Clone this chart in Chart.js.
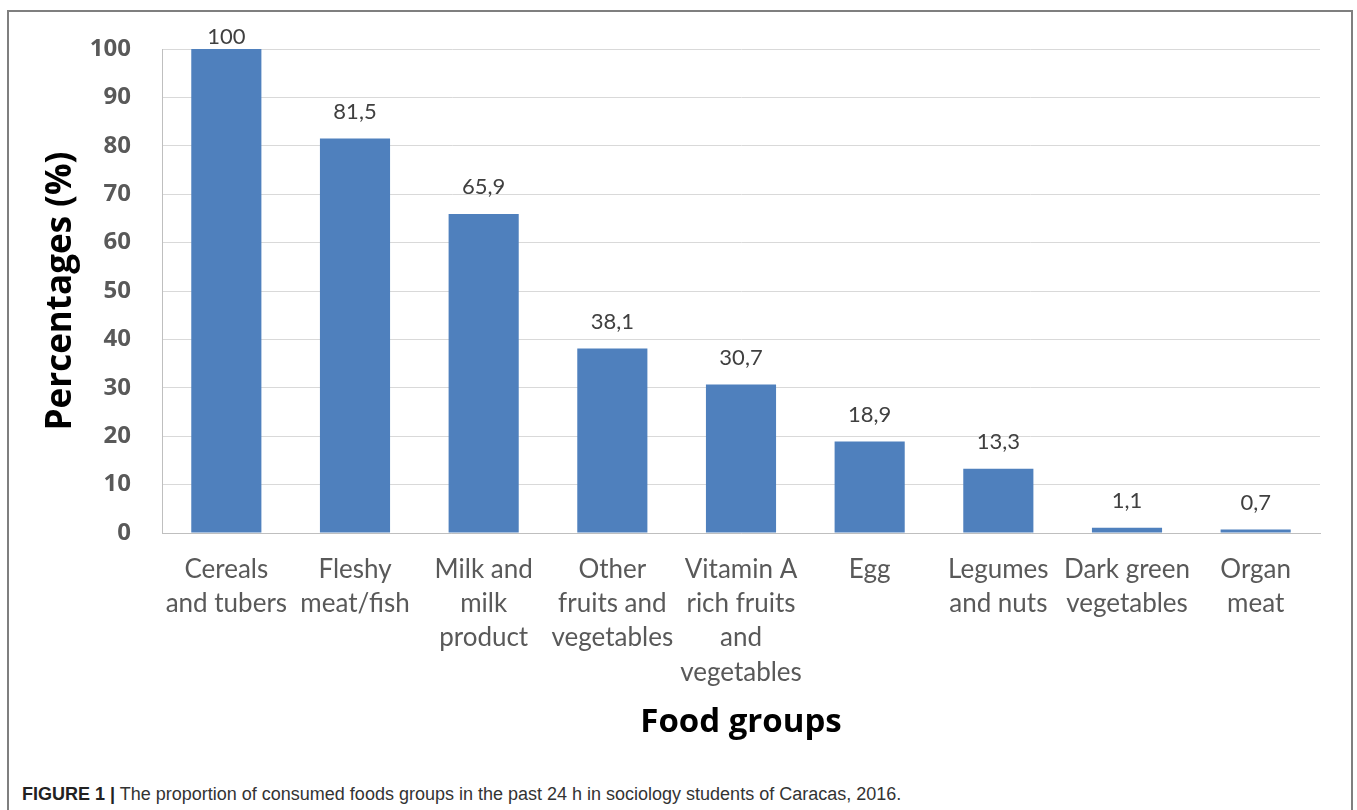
<!DOCTYPE html>
<html>
<head>
<meta charset="utf-8">
<script src="https://cdn.jsdelivr.net/npm/chart.js@4"></script>
<style>
  body { margin: 0; background: #fff; }
  #frame { position: absolute; left: 7px; top: 10px; width: 1346px; height: 820px; border: 2px solid #7f7f7f; box-sizing: border-box; }
  #wrap { position: absolute; left: 0; top: 0; width: 1357px; height: 770px; }
  #caption { position: absolute; left: 22px; top: 784px; font-family: "Liberation Sans", Arial, sans-serif; font-size: 18px; color: #333; }
  #caption b { color: #222; }
</style>
</head>
<body>
<div id="frame"></div>
<div id="wrap"><canvas id="FoodChart"></canvas></div>
<div id="caption"><b>FIGURE 1 |</b> The proportion of consumed foods groups in the past 24 h in sociology students of Caracas, 2016.</div>
<script>
const categories = [
  ['Cereals', 'and tubers'],
  ['Fleshy', 'meat/fish'],
  ['Milk and', 'milk', 'product'],
  ['Other', 'fruits and', 'vegetables'],
  ['Vitamin A', 'rich fruits', 'and', 'vegetables'],
  'Egg',
  ['Legumes', 'and nuts'],
  ['Dark green', 'vegetables'],
  ['Organ', 'meat']
];
const percentages = [100, 81.5, 65.9, 38.1, 30.7, 18.9, 13.3, 1.1, 0.7];
const valueLabels = ['100', '81,5', '65,9', '38,1', '30,7', '18,9', '13,3', '1,1', '0,7'];

const ctx = document.getElementById('FoodChart');

// draws the numbers above each bar, using the bar elements' own positions
const barLabels = {
  id: 'barLabels',
  afterDatasetsDraw(chart) {
    const c = chart.ctx;
    const meta = chart.getDatasetMeta(0);
    c.save();
    c.font = '22px Lato, sans-serif';
    c.fillStyle = '#404040';
    c.textAlign = 'center';
    c.textBaseline = 'middle';
    meta.data.forEach(function (bar, i) {
      let y = bar.y - 27;
      if (y < 37) y = 37;
      c.fillText(valueLabels[i], bar.x, y);
    });
    c.restore();
  }
};

let FoodChart = new Chart(ctx, {
  type: 'bar',
  data: {
    labels: categories,
    datasets: [{
      label: 'Percentages',
      data: percentages,
      backgroundColor: '#4f80bd',
      borderWidth: 0,
      categoryPercentage: 1,
      barPercentage: 0.545
    }]
  },
  options: {
    responsive: true,
    maintainAspectRatio: false,
    animation: false,
    layout: { padding: { top: 49, right: 37, left: 0, bottom: 0 } },
    plugins: {
      legend: { display: false },
      tooltip: { enabled: false }
    },
    scales: {
      x: {
        grid: { display: false },
        border: { display: true, color: '#bfbfbf', width: 1 },
        ticks: {
          color: '#595959',
          font: { family: 'Lato, sans-serif', size: 26, lineHeight: 1.32 },
          maxRotation: 0,
          autoSkip: false,
          padding: 11
        },
        title: {
          display: true,
          text: 'Food groups',
          color: '#000',
          font: { family: '"Open Sans", sans-serif', size: 33, weight: 'bold', lineHeight: 1.2 },
          padding: { top: 0, bottom: 28 }
        },
        afterFit: function (scale) { scale.height = 237; }
      },
      y: {
        min: 0,
        max: 100,
        ticks: {
          stepSize: 10,
          color: '#595959',
          font: { family: '"Open Sans", sans-serif', size: 24, weight: 'bold' },
          padding: 31
        },
        grid: { color: '#d9d9d9', drawTicks: false },
        border: { display: true, color: '#bfbfbf' },
        title: {
          display: true,
          text: 'Percentages (%)',
          color: '#000',
          font: { family: '"Open Sans", sans-serif', size: 35, weight: 'bold', lineHeight: 1.2 },
          padding: { top: 40, bottom: 0 }
        },
        afterFit: function (scale) { scale.width = 162; }
      }
    }
  },
  plugins: [barLabels]
});
</script>
</body>
</html>
